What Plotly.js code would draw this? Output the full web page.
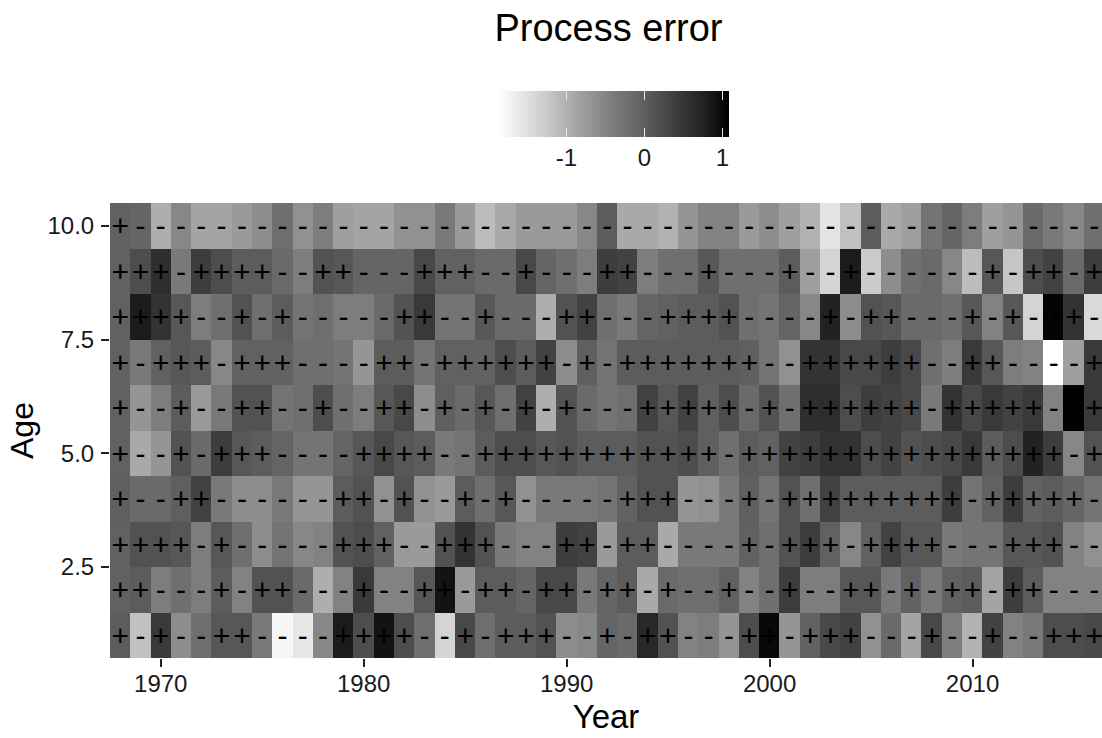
<!DOCTYPE html>
<html>
<head>
<meta charset="utf-8">
<script src="https://cdn.plot.ly/plotly-3.0.1.min.js"></script>
<style>html,body{margin:0;padding:0;background:#fff;overflow:hidden}</style>
</head>
<body>
<div id="chart" style="width:1102px;height:738px"></div>
<script>
const firstYear = 1968, lastYear = 2016;
const years = [];
for (let y = firstYear; y <= lastYear; y++) years.push(y);
const ages = [1,2,3,4,5,6,7,8,9,10];

const age10 = [-.04,-.1,-.97,-.54,-.87,-.87,-.75,-.6,-.23,-.65,-.42,-.81,-.87,-.87,-.65,-.65,-.36,-.75,-1.12,-.92,-.75,-.75,-.75,-.54,.02,-.92,-.92,-1.02,-.7,-.48,-.48,-.75,-.6,-.81,-1.02,-1.55,-1.17,.02,-.92,-.81,-.3,-.1,-.42,-.81,-.7,-.16,-.36,-.54,-.23];
const age9 = [-.04,.2,.6,-.36,.4,.2,.02,.02,-.16,-.42,.14,.08,-.1,-.1,-.1,.27,-.04,-.04,-.16,-.16,.27,-.1,-.23,-.42,.4,.34,-.42,-.23,-.23,.08,-.23,-.23,-.23,.02,-.81,-1.38,.82,-1.28,-.6,-.23,-.16,-.54,-1.12,.08,-1.22,.2,.34,-.16,.4];
const age8 = [-.04,.82,.53,.08,-.42,-.23,.14,-.23,.02,-.3,-.23,-.42,-.42,-.16,.14,.46,-.3,-.3,.08,-.16,-.16,-.97,.14,.34,-.23,-.36,-.1,-.04,.02,.02,.14,-.23,-.3,-.1,-.54,.75,-.6,.14,.08,-.16,-.16,-.23,.08,-.48,.08,-1.38,1.04,.53,-1.44];
const age7 = [-.04,-.36,-.04,.08,.02,-.54,-.04,-.04,-.04,-.23,-.23,-.3,-.7,.02,.02,-.3,-.04,-.04,-.04,.2,.02,.34,-.6,-.02,-.3,.02,.02,.02,.02,.02,.02,-.02,-.3,-.65,.53,.53,.27,.27,.4,.27,-.23,-.42,.46,.08,-.42,-.48,-1.87,-.81,.46];
const age6 = [-.04,-.7,-.42,.02,-.75,-.36,.14,.14,-.3,-.23,.2,-.23,-.42,.08,.27,-.6,-.02,-.16,.08,-.23,.34,-.97,.14,-.16,-.3,-.23,.34,.08,.34,-.02,.2,-.16,.14,-.23,.6,.6,.2,.4,.34,.27,-.36,.53,.27,.46,.34,.46,-.48,1.08,.46];
const age5 = [-.04,-.92,-.7,.14,-.16,.4,.08,.02,-.1,-.3,-.3,-.1,.08,.27,.08,.02,-.36,-.3,.02,.2,.2,.08,.14,.02,.02,.02,.14,.14,.2,-.02,-.23,.02,-.04,.34,.4,.53,.53,.2,.34,.14,.2,.27,.46,.02,.2,.75,.4,-.54,.14];
const age4 = [-.02,-.16,-.16,-.02,.34,-.36,-.6,-.6,-.36,-.7,-.7,.02,.14,-.65,.14,-.65,-.75,.02,-.23,.08,-.65,-.36,-.36,-.36,-.3,-.04,.14,.14,-.7,-.65,-.36,-.02,-.3,.14,-.23,.34,.02,.02,.02,.02,.02,.4,-.3,-.04,.4,-.04,.02,-.1,-.3];
const age3 = [-.04,.14,.14,.08,-.42,.08,-.23,-.6,-.3,-.54,-.48,.14,.2,-.04,-.75,-.75,.14,.53,.14,-.36,-.48,-.48,.4,.34,-.75,.02,.02,-.92,-.36,-.36,-.36,-.04,-.23,.14,.4,-.04,-.54,-.04,.34,.08,.08,-.36,-.3,-.3,.08,.08,.14,-.48,-.65];
const age2 = [-.04,.02,-.42,-.23,-.42,.02,-.48,.14,.14,-.16,-.97,-.48,.46,-.48,-.48,.08,.9,-.75,.02,.02,-.1,.27,.27,-.36,-.1,.02,-.92,-.16,-.23,-.23,-.04,-.48,-.23,.4,-.42,-.42,.08,.08,-.36,-.04,-.36,-.04,.02,-.87,.4,.02,-.48,-.48,-.48];
const age1 = [.02,-1.17,.46,-.6,-.23,.08,.08,-.36,-1.77,-1.6,-.54,.82,.2,.9,.2,-.23,-1.38,.27,-.23,.02,.02,.14,-.6,-.54,-.1,-.16,.67,.14,-.48,-.42,-.7,.2,1.0,-.7,-.04,.27,.34,-.65,-.16,-.87,.27,-.42,-1.02,.34,-.48,-.36,.2,.2,.27];

const sign10 = "+---------------" + "----------------" + "-----------------";
const sign9  = "+++-++++--++---+" + "++--+---++---+--" + "-+--+------+-++-+";
const sign8  = "++++--+-+-----++" + "--+---++---++++-" + "---+-++---+-+-++-";
const sign7  = "+-+++-+++----++-" + "++++++-+-+++++++" + "--++++++--++----+";
const sign6  = "+--+--++--+--++-" + "+-+-+-+---+++++-" + "+-++++++-+++++-++";
const sign5  = "+--+-+++----++++" + "--++++++++++++-+" + "+++++++++++++++-+";
const sign4  = "+--++------++-+-" + "-+-+-----+++---+" + "-+++++++++-+++++-";
const sign3  = "++++-+-----+++--" + "+++---++-++----+" + "-+++-++++---+++--";
const sign2  = "++---+-++---+--+" + "+-++-++-++-+--+-" + "-+--++-+-++-++---";
const sign1  = "+-+--++----++++-" + "-+-+++--+-++---+" + "+-+++---+--+--+++";

const zRows = [age1, age2, age3, age4, age5, age6, age7, age8, age9, age10];
const signRows = [sign1, sign2, sign3, sign4, sign5, sign6, sign7, sign8, sign9, sign10];

const legendTicks = [-1, 0, 1];
const legendLabels = ["-1", "0", "1"];
const zMin = -1.87, zMax = 1.08;
const colorStops = [[-1.87,255],[-1.28,203],[-0.87,164],[-0.42,125],[-0.04,97],[0.34,66],[0.75,34],[1.08,0]];
const colorscale = colorStops.map(([v, g]) => [(v - zMin) / (zMax - zMin), `rgb(${g},${g},${g})`]);

const W = 1102, H = 738;
const L = 110.3, R = 1102, T = 203, B = 657.7;
const barL = 499, barW = 230, barT = 91, barH = 46, capH = 9;
const textFont = "'Liberation Sans', Arial, sans-serif";
const signDrop = 0.065; // glyphs sit slightly below each cell's centre

const signX = [], signY = [], signT = [];
ages.forEach((a, i) => years.forEach((y, j) => { signX.push(y); signY.push(a - signDrop); signT.push(signRows[i][j]); }));

const barBase = {
  orientation: 'h', xref: 'container', yref: 'container',
  x: (barL + 55) / W, xanchor: 'left', yanchor: 'top',
  lenmode: 'pixels', len: barW, thicknessmode: 'pixels',
  xpad: 0, ypad: 0, outlinewidth: 0, borderwidth: 0,
  tickmode: 'array', tickvals: legendTicks, ticktext: legendLabels,
  ticks: 'inside', tickwidth: 1, tickcolor: '#e8e8e8'
};
const heatCap = {
  type: 'heatmap', x: years, y: ages, z: zRows, zmin: zMin, zmax: zMax, colorscale, hoverinfo: 'skip',
  colorbar: Object.assign({}, barBase, {y: 1 - barT / H, thickness: capH, ticklen: capH, showticklabels: false})
};
const heat = {
  type: 'heatmap', x: years, y: ages, z: zRows, zmin: zMin, zmax: zMax, colorscale,
  colorbar: Object.assign({}, barBase, {y: 1 - (barT + capH) / H, thickness: barH - capH, ticklen: 9,
    tickfont: {family: textFont, size: 24, color: '#1a1a1a'}})
};
const marks = {
  type: 'scatter', mode: 'text', x: signX, y: signY, text: signT,
  textposition: 'middle center', hoverinfo: 'skip', showlegend: false,
  textfont: {family: textFont, size: 30, color: '#000'}
};

const layout = {
  width: W, height: H, paper_bgcolor: '#fff', plot_bgcolor: '#fff', showlegend: false,
  margin: {l: L, r: W - R, t: T, b: H - B, pad: 0},
  title: {text: 'Process error', font: {family: textFont, size: 38, color: '#000'},
          xref: 'container', yref: 'container', x: 608.5 / W, xanchor: 'center', y: 1 - 28 / H, yanchor: 'middle'},
  xaxis: {range: [1967.5, 2016.38], tickmode: 'array', tickvals: [1970,1980,1990,2000,2010],
          ticks: 'outside', ticklen: 8, tickwidth: 1.5, tickcolor: '#222', showgrid: false, zeroline: false, showline: false,
          ticklabelstandoff: -4,
          tickfont: {family: textFont, size: 24, color: '#1a1a1a'},
          title: {text: 'Year', font: {family: textFont, size: 33, color: '#000'}, standoff: 9}},
  yaxis: {range: [0.5, 10.5], tickmode: 'array', tickvals: [2.5,5,7.5,10], ticktext: ['2.5','5.0','7.5','10.0'],
          ticks: 'outside', ticklen: 8, tickwidth: 1.5, tickcolor: '#222', showgrid: false, zeroline: false, showline: false,
          ticklabelstandoff: 2,
          tickfont: {family: textFont, size: 24, color: '#1a1a1a'},
          title: {text: 'Age', font: {family: textFont, size: 32, color: '#000'}, standoff: 4}}
};
Plotly.newPlot('chart', [heatCap, heat, marks], layout, {displayModeBar: false, responsive: false});
</script>
</body>
</html>
